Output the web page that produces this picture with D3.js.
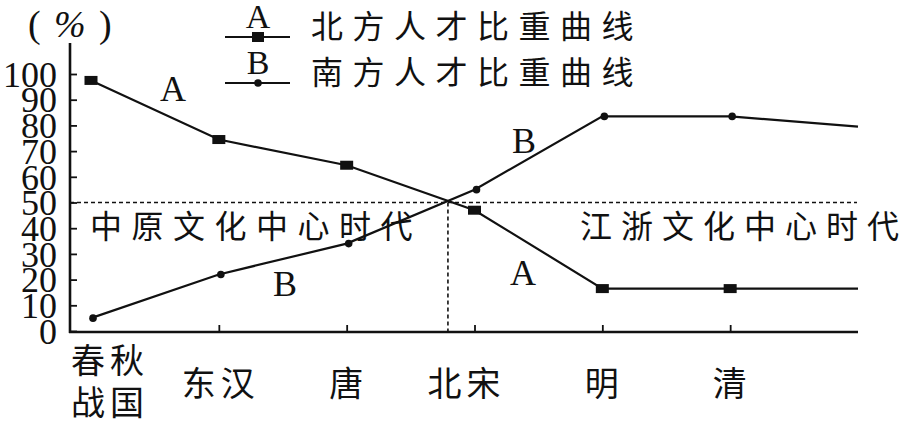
<!DOCTYPE html>
<html><head><meta charset="utf-8">
<script src="https://cdn.jsdelivr.net/npm/d3@7/dist/d3.min.js"></script>
<style>
html,body{margin:0;padding:0;background:#fff;}
svg{display:block;}
.cjk{font-family:"Noto Sans CJK SC","Noto Sans CJK JP",sans-serif;fill:#111;}
.lat{font-family:"Liberation Serif","DejaVu Serif",serif;fill:#111;}
</style></head>
<body><svg id="c" width="908" height="425"></svg>
<script>
// ---- data ----
const periods = ["春秋战国","东汉","唐","北宋","明","清",""];   // last = trailing end of the curves
const northShare = [97.5, 74.5, 64.5, 47, 16.5, 16.5, 16.5];      // A 北方人才比重
const southShare = [5, 22, 34, 55, 83.5, 83.5, 79.5];             // B 南方人才比重
const yTicks = [0,10,20,30,40,50,60,70,80,90,100];
const legendLabels = ["北方人才比重曲线","南方人才比重曲线"];
const eraLabels = ["中原文化中心时代","江浙文化中心时代"];
const threshold = 50;

const svg = d3.select("#c");
const x = d3.scalePoint().domain(periods).range([91, 858]);
const y = d3.scaleLinear().domain([0,100]).range([331, 74]);
const axisX0 = 70, axisY0 = 332, axisXEnd = 858, axisYTop = 43;

// y axis ticks + labels
const ya = svg.append("g").attr("transform",`translate(${axisX0},0)`)
  .call(d3.axisLeft(y).tickValues(yTicks).tickSizeInner(-7).tickSizeOuter(0).tickPadding(13));
ya.select(".domain").remove();
ya.selectAll(".tick line").attr("stroke","#111").attr("stroke-width",1.8);
ya.selectAll(".tick text").attr("class","lat").attr("font-size",36).attr("dy","0.34em")
  .attr("fill","#111");

// x axis ticks (no labels)
const xa = svg.append("g").attr("transform",`translate(0,${axisY0})`)
  .call(d3.axisBottom(x).tickValues(periods.slice(1,6)).tickSizeInner(-7).tickSizeOuter(0).tickFormat(""));
xa.select(".domain").remove();
xa.selectAll(".tick line").attr("stroke","#111").attr("stroke-width",1.8);

// axis lines
svg.append("line").attr("x1",axisX0).attr("x2",axisX0).attr("y1",axisYTop).attr("y2",axisY0+1)
  .attr("stroke","#111").attr("stroke-width",2.6);
svg.append("line").attr("x1",axisX0-1).attr("x2",axisXEnd).attr("y1",axisY0).attr("y2",axisY0)
  .attr("stroke","#111").attr("stroke-width",2.6);

// x labels
const xl = svg.append("g");
periods.slice(0,6).forEach((p,i)=>{
  if(i===0){
    const t = xl.append("text").attr("class","cjk").attr("font-size",34).attr("letter-spacing",5)
      .attr("text-anchor","middle");
    t.append("tspan").attr("x",x(p)+19).attr("y",373).text(p.slice(0,2));
    t.append("tspan").attr("x",x(p)+19).attr("y",415).text(p.slice(2));
  } else {
    xl.append("text").attr("class","cjk").attr("font-size",34).attr("letter-spacing",5)
      .attr("text-anchor","middle").attr("x",x(p)+(p==="北宋"?-8:2)).attr("y",396).text(p);
  }
});

// threshold dashed line
svg.append("line").attr("x1",axisX0).attr("x2",857).attr("y1",y(threshold)).attr("y2",y(threshold))
  .attr("stroke","#111").attr("stroke-width",1.6).attr("stroke-dasharray","4,3");

// crossing point of the two curves
let cross=null;
for(let i=0;i<periods.length-1;i++){
  const d0 = northShare[i]-southShare[i], d1 = northShare[i+1]-southShare[i+1];
  if(d0>0 && d1<=0){
    const f = d0/(d0-d1);
    cross = x(periods[i]) + f*(x(periods[i+1])-x(periods[i]));
  }
}
if(cross!==null){
  svg.append("line").attr("x1",cross).attr("x2",cross).attr("y1",y(threshold)).attr("y2",axisY0)
    .attr("stroke","#111").attr("stroke-width",1.6).attr("stroke-dasharray","4,3");
}

// era labels
svg.append("text").attr("class","cjk").attr("font-size",32).attr("letter-spacing",9.5)
  .attr("x",90).attr("y",238).text(eraLabels[0]);
svg.append("text").attr("class","cjk").attr("font-size",32).attr("letter-spacing",9)
  .attr("x",580).attr("y",238).text(eraLabels[1]);

// curves
const line = d3.line().x((d,i)=>x(periods[i])).y(d=>y(d));
svg.append("path").attr("d",line(northShare)).attr("fill","none").attr("stroke","#111").attr("stroke-width",2.2);
svg.append("path").attr("d",line(southShare)).attr("fill","none").attr("stroke","#111").attr("stroke-width",2.2);

// markers
svg.append("g").selectAll("rect").data(northShare.slice(0,6)).join("rect")
  .attr("x",(d,i)=>x(periods[i])-6.5).attr("y",d=>y(d)-4.5).attr("width",13).attr("height",9).attr("fill","#111");
svg.append("g").selectAll("circle").data(southShare.slice(0,6)).join("circle")
  .attr("cx",(d,i)=>x(periods[i])+2).attr("cy",d=>y(d)).attr("r",3.8).attr("fill","#111");

// curve letters
const letter = (t,cx,cy)=>svg.append("text").attr("class","lat").attr("font-size",36)
  .attr("text-anchor","middle").attr("x",cx).attr("y",cy).text(t);
letter("A",173,101);
letter("B",524,153);
letter("A",523,285);
letter("B",285,296);

// unit label
const u = svg.append("text").attr("class","lat").attr("font-size",38).attr("y",37);
u.append("tspan").attr("x",28).text("(");
u.append("tspan").attr("x",54).attr("font-style","italic").text("%");
u.append("tspan").attr("x",99).text(")");

// legend
[["A","rect"],["B","circle"]].forEach(([k,m],i)=>{
  const ly = 37 + i*46;
  svg.append("line").attr("x1",225).attr("x2",290).attr("y1",ly).attr("y2",ly).attr("stroke","#111").attr("stroke-width",2);
  if(m==="rect") svg.append("rect").attr("x",252).attr("y",ly-5).attr("width",12).attr("height",10).attr("fill","#111");
  else svg.append("circle").attr("cx",258).attr("cy",ly).attr("r",3.8).attr("fill","#111");
  svg.append("text").attr("class","lat").attr("font-size",34).attr("text-anchor","middle")
    .attr("x",258).attr("y",ly-9).text(k);
  svg.append("text").attr("class","cjk").attr("font-size",32).attr("letter-spacing",9.5)
    .attr("x",311).attr("y",ly+1).text(legendLabels[i]);
});
</script></body></html>
